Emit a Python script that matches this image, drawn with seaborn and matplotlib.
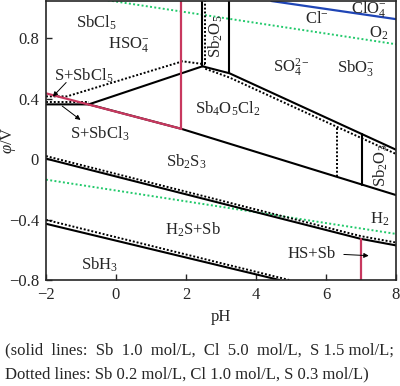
import numpy as np
import pandas as pd
import matplotlib
matplotlib.use("Agg")
import matplotlib.pyplot as plt
import seaborn as sns

# boundary lines of the Sb-Cl-S-H2O diagram (pH, potential in V)
# solid lines: Sb 1.0, Cl 5.0, S 1.5 mol/L
sbcl_low_ph = [-2, -0.78, 2.47]
sbcl_low_e = [0.362, 0.362, 0.614]
sb4_top_ph = [2.47, 3.24, 8.0]
sb4_top_e = [0.614, 0.568, 0.062]
sb4_low_ph = [-0.78, 1.87, 8.0]
sb4_low_e = [0.362, 0.20, -0.238]
sb2o5_l_ph = [2.47, 2.47]
sb2o5_l_e = [0.614, 1.05]
sb2o5_r_ph = [3.24, 3.24]
sb2o5_r_e = [0.568, 1.05]
sb2o3_ph = [7.03, 7.03]
sb2o3_e = [0.165, -0.169]
sb2s3_ph = [-2, 7.0, 8.0]
sb2s3_e = [0.003, -0.528, -0.571]
sbh3_ph = [-2, 4.67]
sbh3_e = [-0.428, -0.80]

# dotted lines: Sb 0.2, Cl 1.0, S 0.3 mol/L
d_sbcl3_ph = [-2, -0.78]
d_sbcl3_e = [0.375, 0.375]
d_sbcl5_ph = [-2, -1.4, 1.9, 2.55]
d_sbcl5_e = [0.415, 0.415, 0.647, 0.627]
d_sb2o5_ph = [2.55, 2.55]
d_sb2o5_e = [0.627, 1.05]
d_sb4_top_ph = [2.55, 3.24, 8.0]
d_sb4_top_e = [0.598, 0.540, 0.034]
d_sb2o3_ph = [6.32, 6.32]
d_sb2o3_e = [0.208, -0.115]
d_sb2s3_ph = [-2, 7.0, 8.0]
d_sb2s3_e = [0.020, -0.510, -0.552]
d_sbh3_ph = [-2, 4.95]
d_sbh3_e = [-0.402, -0.80]

# red lines (S species)
red_a_ph = [-2, 1.87]
red_a_e = [0.435, 0.20]
red_b_ph = [1.87, 1.87]
red_b_e = [0.20, 1.05]
red_c_ph = [7.0, 7.0]
red_c_e = [-0.528, -0.80]

# water lines and Cl-/ClO4-
o2_ph = [-2, 8]
o2_e = [1.113, 0.760]
h2_ph = [-2, 8]
h2_e = [-0.136, -0.495]
clo4_ph = [4.44, 8]
clo4_e = [1.046, 0.926]


def frame(lines):
    rows = []
    for i, (ph, e) in enumerate(lines):
        for p, v in zip(ph, e):
            rows.append({"pH": p, "E": v, "line": i})
    return pd.DataFrame(rows)


solid = frame([(sbcl_low_ph, sbcl_low_e), (sb4_top_ph, sb4_top_e), (sb4_low_ph, sb4_low_e),
               (sb2o5_l_ph, sb2o5_l_e), (sb2o5_r_ph, sb2o5_r_e), (sb2o3_ph, sb2o3_e),
               (sb2s3_ph, sb2s3_e), (sbh3_ph, sbh3_e)])
dotted = frame([(d_sbcl3_ph, d_sbcl3_e), (d_sbcl5_ph, d_sbcl5_e), (d_sb2o5_ph, d_sb2o5_e),
                (d_sb4_top_ph, d_sb4_top_e), (d_sb2o3_ph, d_sb2o3_e), (d_sb2s3_ph, d_sb2s3_e),
                (d_sbh3_ph, d_sbh3_e)])
red = frame([(red_a_ph, red_a_e), (red_b_ph, red_b_e), (red_c_ph, red_c_e)])
water = frame([(o2_ph, o2_e), (h2_ph, h2_e)])
blue = frame([(clo4_ph, clo4_e)])

sns.set_style("ticks")
plt.rcParams["font.family"] = ["Liberation Serif", "DejaVu Serif"]
plt.rcParams["mathtext.fontset"] = "custom"
plt.rcParams["mathtext.rm"] = "Liberation Serif"
plt.rcParams["mathtext.it"] = "Liberation Serif:italic"

fig = plt.figure(figsize=(4.0, 3.86), dpi=100)
ax = fig.add_axes([0.115, 0.2746, 0.875, 0.7228])

kw = dict(x="pH", y="E", units="line", estimator=None, sort=False, legend=False, ax=ax)
sns.lineplot(data=water, color="#22c96b", lw=1.4, **kw)
for l in ax.lines:
    l.set_linestyle((0, (1, 1.2)))
n = len(ax.lines)
sns.lineplot(data=dotted, color="black", lw=1.4, **kw)
for l in ax.lines[n:]:
    l.set_linestyle((0, (1, 1)))
sns.lineplot(data=solid, color="black", lw=1.5, **kw)
sns.lineplot(data=blue, color="#1f45b5", lw=1.6, **kw)
sns.lineplot(data=red, color="#c8385f", lw=1.6, **kw)

ax.set_xlim(-2, 8)
ax.set_ylim(-0.8, 1.046)
ax.set_xticks([-2, 0, 2, 4, 6, 8])
ax.set_xticklabels(["\u22122", "0", "2", "4", "6", "8"])
ax.set_yticks([-0.8, -0.4, 0, 0.4, 0.8])
ax.set_yticklabels(["\u22120.8", "\u22120.4", "0", "0.4", "0.8"])
ax.tick_params(direction="in", length=4, width=1, labelsize=12, pad=5)
for s in ax.spines.values():
    s.set_linewidth(1.2)
ax.set_xlabel("pH", fontsize=12, labelpad=4)
ax.set_ylabel(r"$\varphi$/V", fontsize=12)
ax.yaxis.set_label_coords(-0.08, 0.5)

fs = 12
labels = [
    (-0.55, 0.90, "SbCl$_5$", 0),
    (0.36, 0.76, "HSO$_4^{-}$", 0),
    (-0.92, 0.55, "S+SbCl$_5$", 0),
    (-0.46, 0.17, "S+SbCl$_3$", 0),
    (2.85, 0.81, "Sb$_2$O$_5$", 90),
    (5.75, 0.93, "Cl$^{-}$", 0),
    (7.23, 0.99, "ClO$_4^{-}$", 0),
    (7.5, 0.83, "O$_2$", 0),
    (5.0, 0.60, "SO$_4^{2-}$", 0),
    (6.86, 0.60, "SbO$_3^{-}$", 0),
    (3.19, 0.335, "Sb$_4$O$_5$Cl$_2$", 0),
    (7.57, -0.04, "Sb$_2$O$_3$", 90),
    (2.0, -0.02, "Sb$_2$S$_3$", 0),
    (2.19, -0.47, "H$_2$S+Sb", 0),
    (7.54, -0.40, "H$_2$", 0),
    (5.6, -0.63, "HS+Sb", 0),
    (-0.46, -0.70, "SbH$_3$", 0),
]
for x, y, t, r in labels:
    ax.text(x, y, t, fontsize=fs, ha="center", va="center", rotation=r)

arr = dict(arrowstyle="-|>", lw=0.7, color="black", mutation_scale=7)
ax.annotate("", xy=(-1.86, 0.40), xytext=(-1.37, 0.52), arrowprops=arr)
ax.annotate("", xy=(-0.95, 0.248), xytext=(-1.6, 0.362), arrowprops=arr)
ax.annotate("", xy=(7.3, -0.64), xytext=(6.43, -0.63), arrowprops=arr)

fig.text(0.012, 0.093, "(solid  lines:  Sb  1.0  mol/L,  Cl  5.0  mol/L,  S 1.5 mol/L;",
         fontsize=12, ha="left", va="center")
fig.text(0.012, 0.031, "Dotted lines: Sb 0.2 mol/L, Cl 1.0 mol/L, S 0.3 mol/L)",
         fontsize=12, ha="left", va="center")

fig.savefig("out.png", dpi=100)
